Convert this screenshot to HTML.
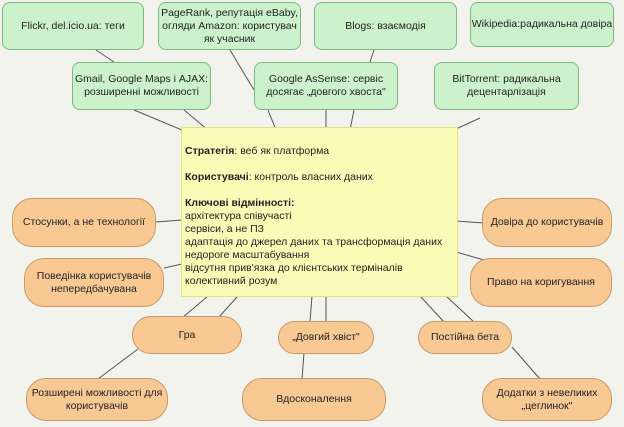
<!DOCTYPE html>
<html><head><meta charset="utf-8"><style>
body{margin:0;width:624px;height:427px;background:#f3f3ee;position:relative;overflow:hidden;font-family:"Liberation Sans",sans-serif;font-size:10.5px;color:#222}
.b{position:absolute;display:flex;align-items:center;justify-content:center;text-align:center;box-sizing:border-box;line-height:13px}
.g{background:#ccf2cc;border:1px solid #7fb87f;border-radius:8px}
.o{background:#f9c994;border:1px solid #c99a6a;border-radius:20px}
.y{position:absolute;left:181px;top:127px;width:277px;height:170px;background:#fbfbb8;border:1px solid #e8e27a;box-sizing:border-box;padding:17px 0 0 3px;line-height:13px}
svg{position:absolute;left:0;top:0}
</style></head><body>
<svg width="624" height="427" stroke="#555" stroke-width="1">
<line x1="96" y1="50" x2="114" y2="62"/>
<line x1="230" y1="50" x2="254" y2="90"/>
<line x1="374" y1="50" x2="370" y2="62"/>
<line x1="134" y1="110" x2="182" y2="130"/>
<line x1="184" y1="110" x2="208" y2="130"/>
<line x1="268" y1="110" x2="276" y2="130"/>
<line x1="326" y1="110" x2="326" y2="130"/>
<line x1="354" y1="110" x2="350" y2="130"/>
<line x1="456" y1="129" x2="480" y2="118"/>
<line x1="156" y1="222" x2="182" y2="220"/>
<line x1="164" y1="268" x2="182" y2="264"/>
<line x1="182" y1="318" x2="208" y2="296"/>
<line x1="218" y1="318" x2="238" y2="296"/>
<line x1="138" y1="349" x2="98" y2="379"/>
<line x1="310" y1="322" x2="312" y2="296"/>
<line x1="326" y1="322" x2="326" y2="296"/>
<line x1="304" y1="353" x2="302" y2="379"/>
<line x1="444" y1="322" x2="420" y2="296"/>
<line x1="474" y1="322" x2="446" y2="296"/>
<line x1="512" y1="347" x2="540" y2="379"/>
<line x1="456" y1="221" x2="484" y2="223"/>
<line x1="456" y1="252" x2="484" y2="260"/>
</svg>
<div class="b g" style="left:2px;top:2px;width:142px;height:48px">Flickr, del.icio.ua: теги</div>
<div class="b g" style="left:158px;top:2px;width:143px;height:48px">PageRank, репутація eBaby, огляди Amazon: користувач як учасник</div>
<div class="b g" style="left:314px;top:2px;width:143px;height:48px">Blogs: взаємодія</div>
<div class="b g" style="left:470px;top:2px;width:144px;height:45px">Wikipedia:радикальна довіра</div>
<div class="b g" style="left:72px;top:62px;width:139px;height:48px">Gmail, Google Maps і AJAX: розширенні можливості</div>
<div class="b g" style="left:254px;top:62px;width:144px;height:48px">Google AsSense: сервіс досягає „довгого хвоста"</div>
<div class="b g" style="left:434px;top:62px;width:145px;height:48px">BitTorrent: радикальна децентарлізація</div>
<div class="y"><b>Стратегія</b>: веб як платформа<br><br><b>Користувачі</b>: контроль власних даних<br><br><b>Ключові відмінності:</b><br>архітектура співучасті<br>сервіси, а не ПЗ<br>адаптація до джерел даних та трансформація даних<br>недороге масштабування<br>відсутня прив'язка до клієнтських терміналів<br>колективний розум</div>
<div class="b o" style="left:12px;top:198px;width:144px;height:49px">Стосунки, а не технології</div>
<div class="b o" style="left:24px;top:258px;width:140px;height:49px">Поведінка користувачів непередбачувана</div>
<div class="b o" style="left:132px;top:316px;width:110px;height:38px">Гра</div>
<div class="b o" style="left:278px;top:321px;width:96px;height:33px">„Довгий хвіст"</div>
<div class="b o" style="left:418px;top:321px;width:94px;height:33px">Постійна бета</div>
<div class="b o" style="left:26px;top:378px;width:142px;height:43px">Розширені можливості для користувачів</div>
<div class="b o" style="left:242px;top:378px;width:144px;height:43px">Вдосконалення</div>
<div class="b o" style="left:482px;top:378px;width:130px;height:43px">Додатки з невеликих „цеглинок"</div>
<div class="b o" style="left:482px;top:198px;width:130px;height:49px">Довіра до користувачів</div>
<div class="b o" style="left:470px;top:258px;width:142px;height:49px">Право на коригування</div>
</body></html>
